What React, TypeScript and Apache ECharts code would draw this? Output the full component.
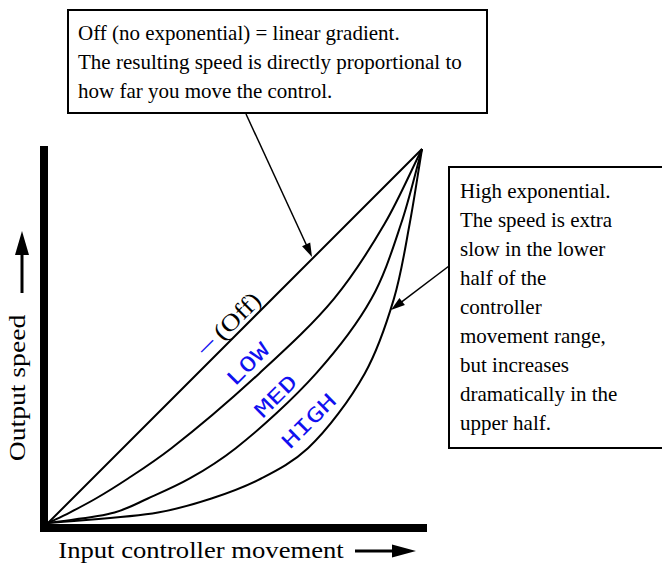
import React, { useEffect, useRef } from "react";
import * as echarts from "echarts";

// Curves: [input %, output %]
const offCurve = [[0, 0], [100, 100]];
const lowCurve = [[0, 0], [5.8, 2.8], [12.8, 6.55], [21.4, 11.9], [33, 20], [56.5, 40], [76.5, 60], [90, 80], [100, 100]];
const medCurve = [[0, 0], [17.8, 2.8], [26.7, 6.55], [37.9, 11.9], [50.2, 20], [71.7, 40], [86.5, 60], [94.4, 80], [100, 100]];
const highCurve = [[0, 0], [29.4, 2.8], [43.7, 6.55], [57, 11.9], [69.5, 20], [84.7, 40], [92.5, 60], [96.7, 80], [100, 100]];
const curveNames = ["Off", "LOW", "MED", "HIGH"];

const xAxisTitle = "Input controller movement";
const yAxisTitle = "Output speed";
const offNote = [
  "Off (no exponential) = linear gradient.",
  "The resulting speed is directly proportional to",
  "how far you move the control.",
];
const highNote = [
  "High exponential.",
  "The speed is extra",
  "slow in the lower",
  "half of the",
  "controller",
  "movement range,",
  "but increases",
  "dramatically in the",
  "upper half.",
];

const SERIF = "'Liberation Serif', 'DejaVu Serif', serif";
const LCD = "'DejaVu Sans Mono', monospace";
const BLUE = "#1010f0";

function dist(a: number[], b: number[]) {
  return Math.hypot(a[0] - b[0], a[1] - b[1]);
}

// centripetal Catmull-Rom through pixel points -> SVG path
function splinePath(pts: number[][]) {
  let d = `M${pts[0][0]},${pts[0][1]}`;
  const n = pts.length;
  for (let i = 0; i < n - 1; i++) {
    const p1 = pts[i], p2 = pts[i + 1];
    const p0 = i > 0 ? pts[i - 1] : [2 * p1[0] - p2[0], 2 * p1[1] - p2[1]];
    const p3 = i + 2 < n ? pts[i + 2] : [2 * p2[0] - p1[0], 2 * p2[1] - p1[1]];
    const d1 = Math.sqrt(dist(p0, p1)), d2 = Math.sqrt(dist(p1, p2)), d3 = Math.sqrt(dist(p2, p3));
    const A = 2 * d1 * d1 + 3 * d1 * d2 + d2 * d2, N = 3 * d1 * (d1 + d2);
    const B = 2 * d3 * d3 + 3 * d3 * d2 + d2 * d2, M = 3 * d3 * (d3 + d2);
    const c1 = [0, 1].map((k) => (d1 * d1 * p2[k] - d2 * d2 * p0[k] + A * p1[k]) / N);
    const c2 = [0, 1].map((k) => (d3 * d3 * p1[k] - d2 * d2 * p3[k] + B * p2[k]) / M);
    d += ` C${c1[0]},${c1[1]} ${c2[0]},${c2[1]} ${p2[0]},${p2[1]}`;
  }
  return d;
}

function arrow(x1: number, y1: number, x2: number, y2: number, len: number, w: number, lw: number) {
  const dx = x2 - x1, dy = y2 - y1;
  const d = Math.hypot(dx, dy);
  const ux = dx / d, uy = dy / d;
  const bx = x2 - ux * len, by = y2 - uy * len;
  const px = (-uy * w) / 2, py = (ux * w) / 2;
  return [
    { type: "line", z: 100, shape: { x1, y1, x2: bx + ux, y2: by + uy }, style: { stroke: "#000", lineWidth: lw } },
    { type: "polygon", z: 100, shape: { points: [[x2, y2], [bx + px, by + py], [bx - px, by - py]] }, style: { fill: "#000" } },
  ];
}

function label(text: string, x: number, y: number, opts: any) {
  return {
    type: "text",
    z: 100,
    x,
    y,
    rotation: opts.rotation || 0,
    scaleX: opts.scaleX || 1,
    style: {
      text,
      fill: opts.fill || "#000",
      fontSize: opts.fontSize,
      fontFamily: opts.fontFamily,
      textAlign: "center",
      textVerticalAlign: "middle",
      align: "center",
      verticalAlign: "middle",
    },
  };
}

function block(lines: string[], x: number, y: number) {
  return {
    type: "text",
    z: 100,
    x,
    y,
    style: {
      text: lines.join("\n"),
      fill: "#000",
      fontSize: 21,
      fontFamily: SERIF,
      lineHeight: 29,
      textAlign: "left",
      textVerticalAlign: "top",
      align: "left",
      verticalAlign: "top",
    },
  };
}

export default function App() {
  const ref = useRef<HTMLDivElement>(null);
  useEffect(() => {
    if (!ref.current) return;
    const chart = echarts.init(ref.current, undefined, { renderer: "svg" });
    const curves = [offCurve, lowCurve, medCurve, highCurve];
    const rot = Math.PI / 4;
    chart.setOption({
      animation: false,
      backgroundColor: "#fff",
      grid: { left: 48, top: 149, width: 374, height: 374 },
      xAxis: { type: "value", min: 0, max: 100, show: false },
      yAxis: { type: "value", min: 0, max: 100, show: false },
      series: curves.map((c, i) => ({
        name: curveNames[i],
        type: "custom",
        coordinateSystem: "cartesian2d",
        silent: true,
        clip: false,
        data: c,
        encode: { x: 0, y: 1 },
        renderItem: (params: any, api: any) => {
          if (params.dataIndex !== 0) return null;
          const pts = c.map((p) => api.coord(p));
          return {
            type: "path",
            shape: { pathData: splinePath(pts) },
            style: { stroke: "#000", lineWidth: 2, fill: "none" },
          };
        },
      })),
      graphic: [
        // axes bars
        { type: "rect", z: 100, shape: { x: 40, y: 146, width: 8, height: 386 }, style: { fill: "#000" } },
        { type: "rect", z: 100, shape: { x: 40, y: 524, width: 387, height: 8 }, style: { fill: "#000" } },
        // axis titles
        label(xAxisTitle, 201, 549, { fontSize: 24, fontFamily: SERIF, scaleX: 1.11 }),
        ...arrow(355, 551, 416, 551, 24, 13, 3),
        label(yAxisTitle, 17, 388, { fontSize: 24, fontFamily: SERIF, rotation: Math.PI / 2, scaleX: 1.15 }),
        ...arrow(22, 293, 22, 231, 24, 14, 3),
        // curve labels
        label("–", 206, 345, { fontSize: 20, fontFamily: LCD, fill: BLUE, rotation: rot, scaleX: 1.4 }),
        label("(Off)", 237, 316, { fontSize: 24, fontFamily: SERIF, rotation: rot, scaleX: 1.15 }),
        label("LOW", 248, 364, { fontSize: 20, fontFamily: LCD, fill: BLUE, rotation: rot, scaleX: 1.4 }),
        label("MED", 276, 396, { fontSize: 20, fontFamily: LCD, fill: BLUE, rotation: rot, scaleX: 1.4 }),
        label("HIGH", 309, 421, { fontSize: 20, fontFamily: LCD, fill: BLUE, rotation: rot, scaleX: 1.4 }),
        // annotation boxes
        { type: "rect", z: 100, shape: { x: 68, y: 10, width: 419, height: 103 }, style: { fill: "#fff", stroke: "#000", lineWidth: 2 } },
        block(offNote, 78, 18),
        { type: "rect", z: 100, shape: { x: 449, y: 167, width: 240, height: 281 }, style: { fill: "#fff", stroke: "#000", lineWidth: 2 } },
        block(highNote, 460, 176),
        // arrows
        ...arrow(246, 114, 312, 257, 14, 9, 1.5),
        ...arrow(449, 266, 391, 310, 14, 9, 1.5),
      ],
    });
    return () => chart.dispose();
  }, []);
  return (
    <div
      ref={ref}
      style={{ position: "fixed", left: 0, top: 0, width: 662, height: 563, background: "#fff" }}
    />
  );
}
